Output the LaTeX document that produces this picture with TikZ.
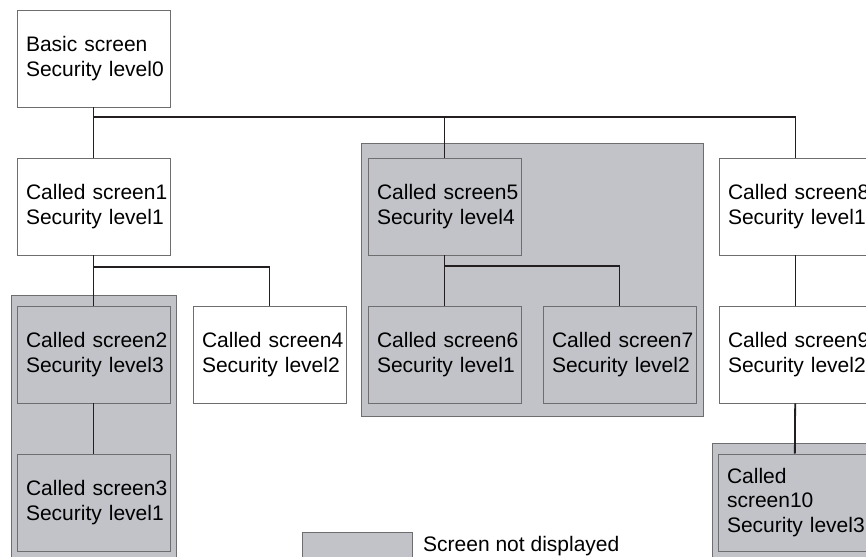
\documentclass[tikz,border=0pt]{standalone}
\usepackage{fontspec}
\setmainfont{Liberation Sans}
\usetikzlibrary{calc}
\definecolor{grayfill}{RGB}{193,195,201}
\definecolor{edgegray}{RGB}{110,110,112}
\definecolor{linecol}{RGB}{35,31,32}
\newcommand{\lineof}[1]{\mbox{#1}}
\begin{document}
\begin{tikzpicture}[x=1pt,y=-1pt,
  scr/.style={draw=edgegray,line width=0.9pt,fill=white,minimum width=153pt,minimum height=97pt,
    text width=135pt,inner xsep=9pt,align=left,font=\fontsize{21}{24.5}\selectfont,anchor=center},
  hid/.style={scr,fill=grayfill},
  grp/.style={draw=edgegray,line width=0.9pt,fill=grayfill},
  conn/.style={draw=linecol,line width=1.8pt}]
\useasboundingbox (0,0) rectangle (866,556);
\clip (0,0) rectangle (866,556);
\fill[white] (0,0) rectangle (866,556);
% group backgrounds
\draw[grp] (11,295) rectangle (176,570);
\draw[grp] (361,143) rectangle (703,416);
\draw[grp] (712,443) rectangle (890,570);
\draw[grp] (302,532) rectangle (412,570);
% screens
\node[scr] (b0) at (93.5,58.5) {\lineof{Basic screen}\\\lineof{Security level0}};
\node[scr] (b1) at (93.5,206.5) {\lineof{Called screen1}\\\lineof{Security level1}};
\node[hid] (b2) at (93.5,354.5) {\lineof{Called screen2}\\\lineof{Security level3}};
\node[hid] (b3) at (93.5,502.5) {\lineof{Called screen3}\\\lineof{Security level1}};
\node[scr] (b4) at (269.5,354.5) {\lineof{Called screen4}\\\lineof{Security level2}};
\node[hid] (b5) at (444.5,206.5) {\lineof{Called screen5}\\\lineof{Security level4}};
\node[hid] (b6) at (444.5,354.5) {\lineof{Called screen6}\\\lineof{Security level1}};
\node[hid] (b7) at (619.5,354.5) {\lineof{Called screen7}\\\lineof{Security level2}};
\node[scr] (b8) at (795.5,206.5) {\lineof{Called screen8}\\\lineof{Security level1}};
\node[scr] (b9) at (795.5,354.5) {\lineof{Called screen9}\\\lineof{Security level2}};
\node[hid] (b10) at (794.5,502.5) {\lineof{Called}\\\lineof{screen10}\\\lineof{Security level3}};
\node[anchor=base west,inner sep=0pt,font=\fontsize{21}{24.5}\selectfont] (leg) at (423,551) {Screen not displayed};
% connectors
\coordinate (j0) at (93.5,117);
\coordinate (j1) at (93.5,267);
\coordinate (j5) at (444.5,266);
\draw[conn] (b0) -- (b1);
\draw[conn] (j0) -| (b5.north);
\draw[conn] (j0) -| (b8.north);
\draw[conn] (b1) -- (b2);
\draw[conn] (j1) -| (b4.north);
\draw[conn] (b2) -- (b3);
\draw[conn] (b5) -- (b6);
\draw[conn] (j5) -| (b7.north);
\draw[conn] (b8) -- (b9);
\draw[conn] (b9) -- (b10);
\end{tikzpicture}
\end{document}
